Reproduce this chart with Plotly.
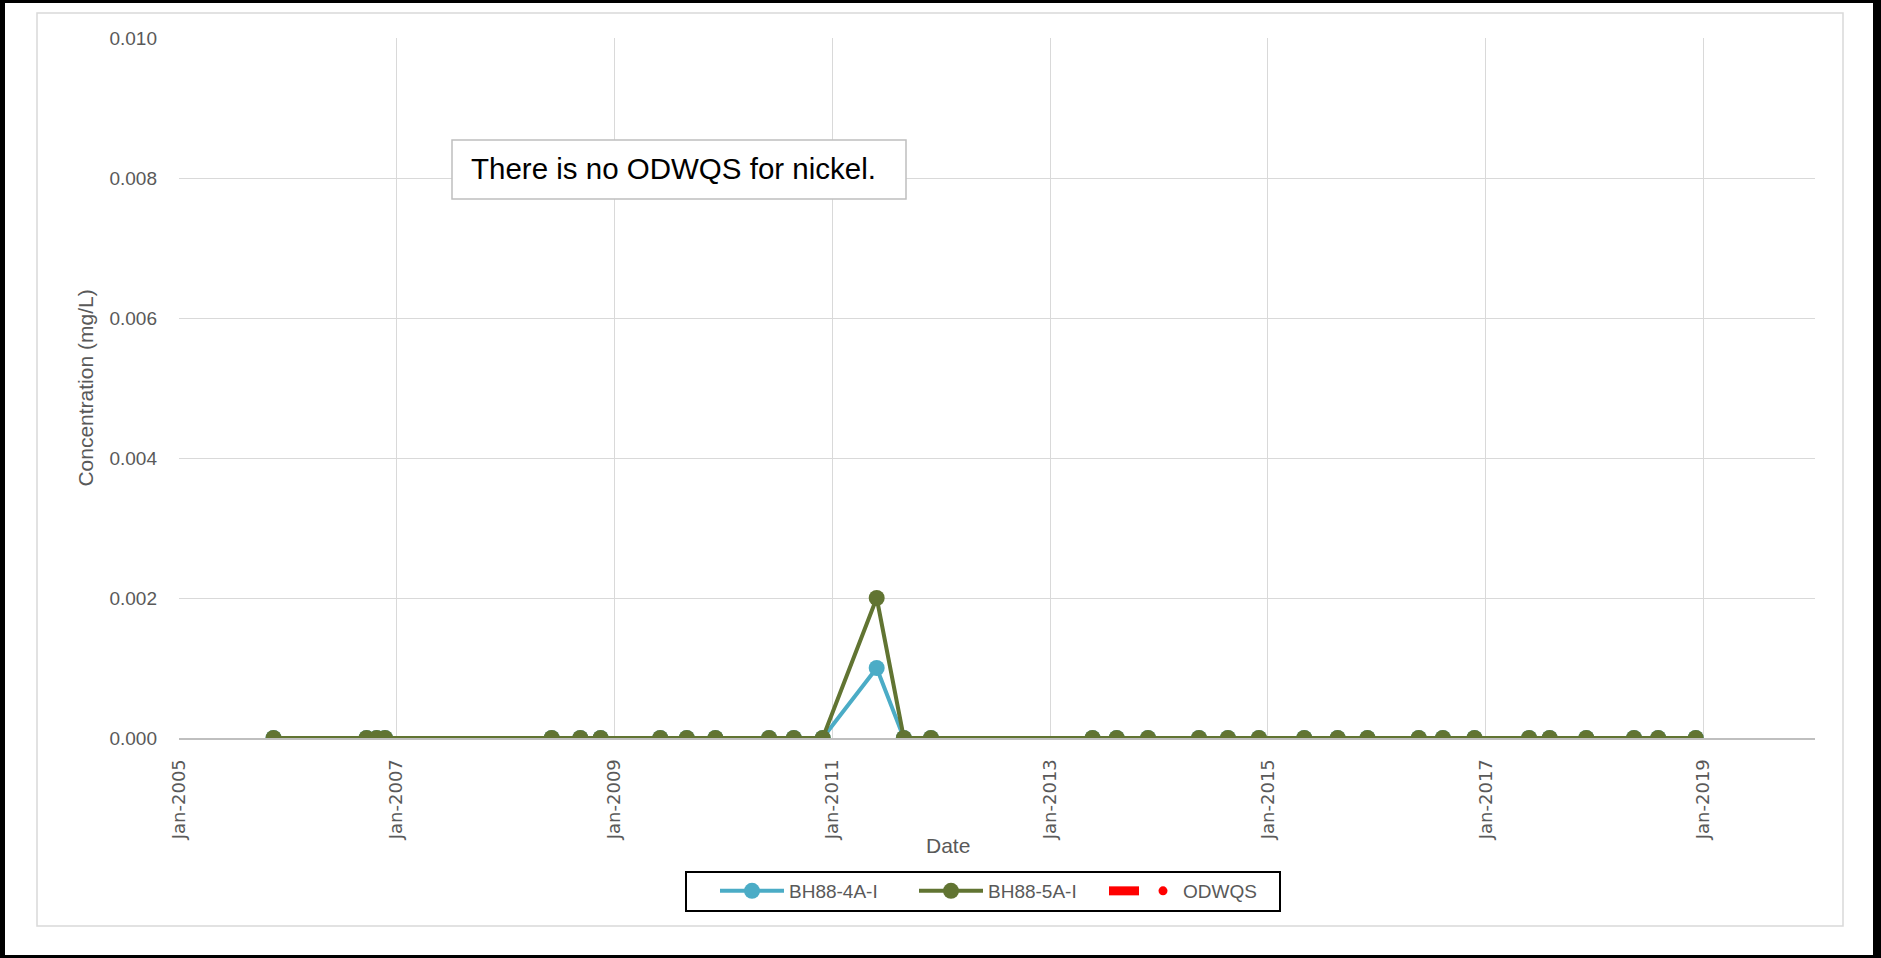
import plotly.graph_objects as go

# sampling dates shared by both wells
sample_dates = [
    "2005-11-14", "2006-09-22", "2006-10-26", "2006-11-23",
    "2008-06-04", "2008-09-08", "2008-11-15",
    "2009-06-03", "2009-08-31", "2009-12-05",
    "2010-06-03", "2010-08-25", "2010-11-30",
    "2011-05-30", "2011-08-29", "2011-11-28",
    "2013-05-23", "2013-08-12", "2013-11-25",
    "2014-05-15", "2014-08-20", "2014-12-02",
    "2015-05-03", "2015-08-23", "2015-12-01",
    "2016-05-21", "2016-08-10", "2016-11-24",
    "2017-05-26", "2017-08-03", "2017-12-04",
    "2018-05-13", "2018-08-02", "2018-12-06",
]
bh88_4a_i = [0.0] * 13 + [0.001] + [0.0] * 20
bh88_5a_i = [0.0] * 13 + [0.002] + [0.0] * 20

x_tick_vals = ["2005-01-01", "2007-01-01", "2009-01-01", "2011-01-01",
               "2013-01-01", "2015-01-01", "2017-01-01", "2019-01-01"]
x_tick_text = ["Jan-2005", "Jan-2007", "Jan-2009", "Jan-2011",
               "Jan-2013", "Jan-2015", "Jan-2017", "Jan-2019"]
y_tick_vals = [0.0, 0.002, 0.004, 0.006, 0.008, 0.010]

note_text = "There is no ODWQS for nickel."

W, H = 1881, 958
L, R, T, B = 179, 1815, 38, 738  # plot area in px
BLUE = "#4BACC6"
GREEN = "#617432"
GREY_TXT = "#595959"
FONT = "Liberation Sans, Arial"


def px_x(x):
    return (x - L) / (R - L)


def px_y(y):
    return (B - y) / (B - T)


fig = go.Figure()

fig.add_trace(go.Scatter(
    x=sample_dates, y=bh88_4a_i, name="BH88-4A-I",
    mode="lines+markers",
    line=dict(color=BLUE, width=4),
    marker=dict(color=BLUE, size=16),
))
fig.add_trace(go.Scatter(
    x=sample_dates, y=bh88_5a_i, name="BH88-5A-I",
    mode="lines+markers",
    line=dict(color=GREEN, width=4),
    marker=dict(color=GREEN, size=16),
))
# ODWQS has no value for nickel: legend-only entries
fig.add_trace(go.Scatter(
    x=[None], y=[None], name=" ", mode="lines", legend="legend2",
    line=dict(color="#FF0000", width=9),
))
fig.add_trace(go.Scatter(
    x=[None], y=[None], name="ODWQS", mode="markers", legend="legend3",
    marker=dict(color="#FF0000", size=9),
))

shapes = []
# outer black frame
for x0, y0, x1, y1 in [(0, 0, 5, H), (W - 8, 0, W, H), (0, 0, W, 3), (0, H - 3, W, H)]:
    shapes.append(dict(type="rect", xref="paper", yref="paper",
                       x0=px_x(x0), x1=px_x(x1), y0=px_y(y1), y1=px_y(y0),
                       fillcolor="black", line=dict(width=0), layer="above"))
# chart area border
shapes.append(dict(type="rect", xref="paper", yref="paper",
                   x0=px_x(37), x1=px_x(1843), y0=px_y(926), y1=px_y(13),
                   line=dict(color="#D9D9D9", width=1.5), layer="below"))
# note box
shapes.append(dict(type="rect", xref="paper", yref="paper",
                   x0=px_x(452), x1=px_x(906), y0=px_y(199), y1=px_y(140),
                   fillcolor="white", line=dict(color="#BFBFBF", width=1.5), layer="above"))
# legend frame
shapes.append(dict(type="rect", xref="paper", yref="paper",
                   x0=px_x(686), x1=px_x(1280), y0=px_y(911), y1=px_y(872),
                   line=dict(color="black", width=2), layer="above"))

annotations = [
    dict(text=note_text, xref="paper", yref="paper",
         x=px_x(469), y=px_y(168), xanchor="left", yanchor="middle",
         showarrow=False, font=dict(family=FONT, size=29.5, color="black")),
    dict(text="Date", xref="paper", yref="paper",
         x=px_x(948), y=px_y(845), xanchor="center", yanchor="middle",
         showarrow=False, font=dict(family=FONT, size=21, color=GREY_TXT)),
]

legend_common = dict(
    orientation="h", yanchor="middle", y=px_y(891), xanchor="left",
    bgcolor="rgba(0,0,0,0)", borderwidth=0,
    font=dict(family=FONT, size=19, color=GREY_TXT),
)

fig.update_layout(
    width=W, height=H,
    margin=dict(l=L, r=W - R, t=T, b=H - B, autoexpand=False),
    paper_bgcolor="white",
    plot_bgcolor="white",
    showlegend=True,
    legend=dict(legend_common, x=px_x(715), itemwidth=64,
                entrywidth=120, entrywidthmode="pixels"),
    legend2=dict(legend_common, x=px_x(1104)),
    legend3=dict(legend_common, x=px_x(1143)),
    xaxis=dict(
        type="date",
        range=["2005-01-01", "2020-01-10"],
        tickmode="array", tickvals=x_tick_vals, ticktext=x_tick_text,
        tickangle=-90,
        tickfont=dict(family="DejaVu Sans", size=18, color=GREY_TXT),
        ticklabelstandoff=12,
        showgrid=True, gridcolor="#D9D9D9", gridwidth=1.3,
        showline=True, linecolor="#BFBFBF", linewidth=2,
        zeroline=False, ticks="",
    ),
    yaxis=dict(
        range=[0, 0.010],
        tickmode="array", tickvals=y_tick_vals, tickformat=".3f",
        tickfont=dict(family=FONT, size=19, color=GREY_TXT),
        ticklabelstandoff=21,
        showgrid=True, gridcolor="#D9D9D9", gridwidth=1.3,
        zeroline=False, showline=False, ticks="",
        title=dict(text="Concentration (mg/L)", standoff=10,
                   font=dict(family=FONT, size=21, color=GREY_TXT)),
    ),
    shapes=shapes,
    annotations=annotations,
)

fig.write_html("out.html", config={"displayModeBar": False},
               post_script="document.body.style.margin='0';")
